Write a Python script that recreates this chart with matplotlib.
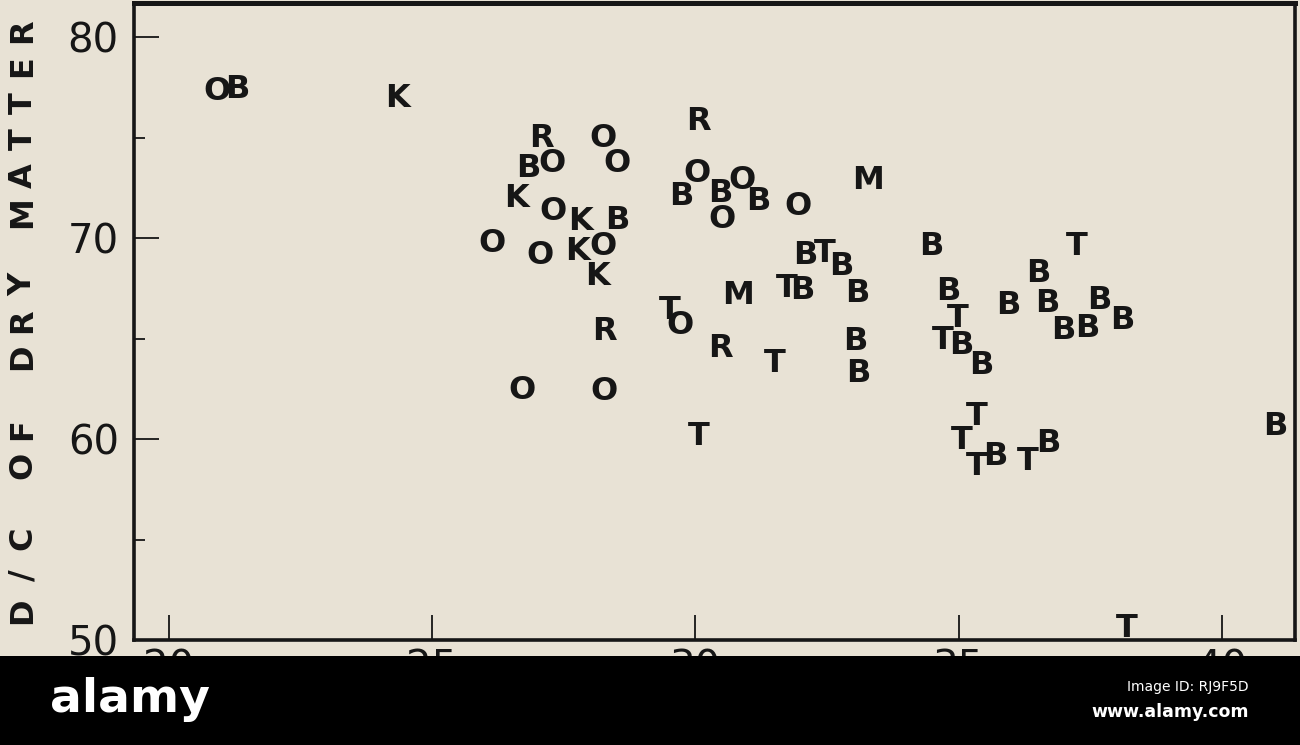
import matplotlib
matplotlib.use("Agg")
import matplotlib.pyplot as plt
from matplotlib.patches import Rectangle
from matplotlib.transforms import offset_copy

# ---- data (letter symbols = forage class codes) ----
b_x = [21.31, 26.82, 28.51, 29.74, 30.47, 31.19, 32.08, 32.78, 32.04, 33.07,
       33.03, 33.09, 34.49, 34.80, 35.06, 35.44, 35.94, 36.51, 36.68, 37.68,
       36.98, 37.45, 38.10, 35.69, 36.70, 41.01]
b_y = [77.56, 73.63, 71.04, 72.24, 72.39, 71.99, 69.30, 68.76, 67.56, 67.41,
       65.02, 63.43, 69.75, 67.51, 64.83, 63.83, 66.82, 68.41, 66.92, 67.06,
       65.57, 65.67, 66.07, 59.30, 59.95, 60.80]
o_x = [20.91, 28.24, 27.27, 28.51, 27.29, 26.13, 27.05, 28.24, 26.70, 28.26,
       29.71, 30.03, 30.50, 30.88, 31.95]
o_y = [77.46, 75.12, 73.88, 73.88, 71.49, 69.90, 69.30, 69.75, 62.59, 62.54,
       65.82, 73.38, 71.09, 73.03, 71.74]
k_x = [24.35, 26.61, 27.81, 27.77, 28.15]
k_y = [77.11, 72.14, 70.99, 69.50, 68.26]
r_x = [27.08, 28.28, 30.05, 30.47]
r_y = [75.12, 65.52, 75.97, 64.68]
t_x = [29.52, 32.46, 31.74, 31.51, 30.07, 34.99, 34.70, 37.25, 35.35, 35.06,
       35.35, 36.32, 38.20]
t_y = [66.57, 69.40, 67.66, 63.93, 60.30, 66.17, 65.07, 69.75, 61.29, 60.10,
       58.81, 59.05, 50.75]
m_x = [33.28, 30.81]
m_y = [73.03, 67.31]

x_ticks = [20, 25, 30, 35, 40]
x_ticklabels = ["20", "25", "30", "35", "40"]
y_ticks = [50, 60, 70, 80]
y_ticklabels = ["50", "60", "70", "80"]
y_minor = [55, 65, 75]
y_label = "D/C OF DRY MATTER"

BG = "#e8e2d5"
INK = "#161616"

fig = plt.figure(figsize=(13, 7.45), dpi=100, facecolor=BG)
ax = fig.add_axes([0.1031, 0.1409, 0.8931, 0.8551], facecolor=BG)
ax.set_xlim(19.34, 41.39)
ax.set_ylim(50, 81.7)

FS = 23
trans = offset_copy(ax.transData, fig=fig, x=0, y=-0.729 * FS / 2, units="points")
for letter, xs, ys in [("B", b_x, b_y), ("O", o_x, o_y), ("K", k_x, k_y),
                       ("R", r_x, r_y), ("T", t_x, t_y), ("M", m_x, m_y)]:
    for x, y in zip(xs, ys):
        ax.text(x, y, letter, transform=trans, ha="center", va="baseline",
                fontsize=FS, fontweight="bold", family="DejaVu Sans",
                color=INK, clip_on=False, zorder=3)

ax.set_xticks(x_ticks)
ax.set_xticklabels(x_ticklabels)
ax.set_yticks(y_ticks)
ax.set_yticklabels(y_ticklabels)
ax.set_yticks(y_minor, minor=True)
ax.tick_params(axis="both", which="major", direction="in", length=18, width=1.3,
               labelsize=29, colors=INK)
ax.tick_params(axis="y", which="major", pad=11)
ax.tick_params(axis="x", which="major", pad=6)
ax.tick_params(axis="y", which="minor", direction="in", length=8, width=1.3, colors=INK)
for side in ["left", "right", "bottom"]:
    ax.spines[side].set_linewidth(2.6)
    ax.spines[side].set_color(INK)
ax.spines["top"].set_linewidth(3.6)
ax.spines["top"].set_color(INK)

# rotated axis label, letter by letter (wide letter spacing of the original)
W, H = 1300, 745
start, pitch = 611, 36.3
for i, ch in enumerate(y_label):
    if ch == " ":
        continue
    py = start - i * pitch
    fig.text(23 / W, (H - py) / H, ch, rotation=90, ha="center", va="center",
             fontsize=23, fontweight="bold", family="DejaVu Sans", color=INK)

# black strip at the bottom of the scanned image
fig.add_artist(Rectangle((0, 0), 1, 89 / H, transform=fig.transFigure,
                         facecolor="black", edgecolor="none", zorder=10))
fig.text(50 / W, (H - 700) / H, "alamy", ha="left", va="center", fontsize=34,
         fontweight="bold", family=["Liberation Sans Narrow", "DejaVu Sans"],
         color="white", zorder=11)
fig.text(1249 / W, (H - 687) / H, "Image ID: RJ9F5D", ha="right", va="center",
         fontsize=10, family=["Liberation Sans Narrow", "DejaVu Sans"],
         color="white", zorder=11)
fig.text(1249 / W, (H - 712) / H, "www.alamy.com", ha="right", va="center",
         fontsize=12.5, fontweight="bold", family=["Liberation Sans Narrow", "DejaVu Sans"],
         color="white", zorder=11)

fig.savefig("out.png", dpi=100, facecolor=BG)
